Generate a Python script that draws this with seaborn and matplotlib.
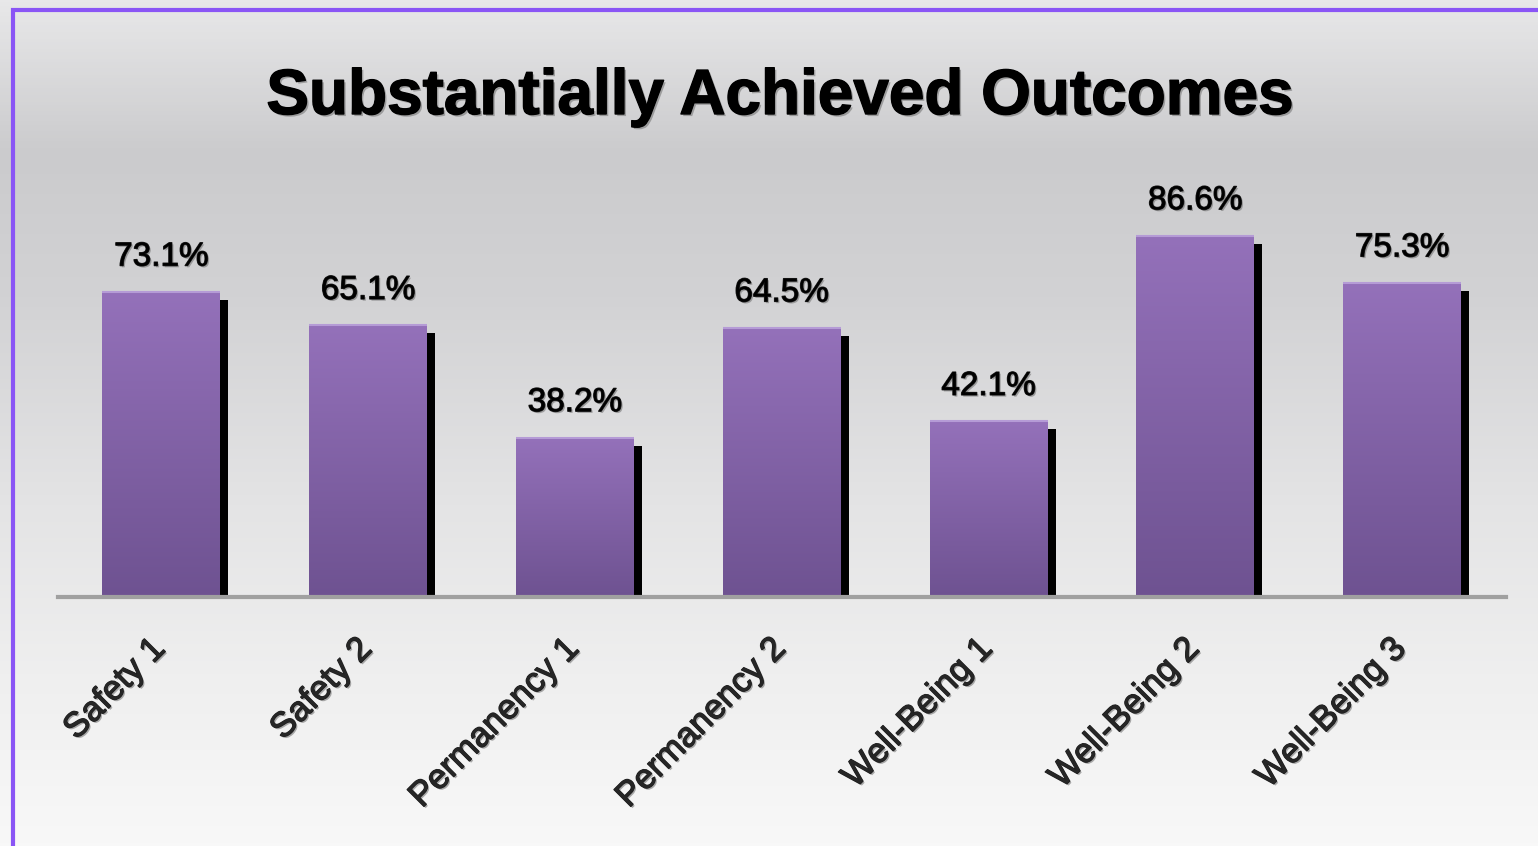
import numpy as np
import pandas as pd
import matplotlib
matplotlib.use("Agg")
import matplotlib.pyplot as plt
import matplotlib.transforms as mtransforms
import matplotlib.patheffects as pe
from matplotlib.colors import LinearSegmentedColormap
from matplotlib.patches import Rectangle
from matplotlib.lines import Line2D
import seaborn as sns

categories = ["Safety 1", "Safety 2", "Permanency 1", "Permanency 2",
              "Well-Being 1", "Well-Being 2", "Well-Being 3"]
values = [73.1, 65.1, 38.2, 64.5, 42.1, 86.6, 75.3]
value_labels = ["73.1%", "65.1%", "38.2%", "64.5%", "42.1%", "86.6%", "75.3%"]
title = "Substantially Achieved Outcomes"

df = pd.DataFrame({"outcome": categories, "pct": values})

sns.set_theme(style="white")
plt.rcParams["font.family"] = ["Liberation Sans", "DejaVu Sans"]

W, H, DPI = 1538, 846, 100
fig = plt.figure(figsize=(W / DPI, H / DPI), dpi=DPI)

# background gradient
bg = fig.add_axes([0, 0, 1, 1], zorder=-10)
bg_cmap = LinearSegmentedColormap.from_list(
    "bg", [(0.0, "#e8e8e9"), (0.18, "#cbcbcd"), (0.35, "#d2d2d4"),
           (0.6, "#e4e4e5"), (0.8, "#efefef"), (1.0, "#f8f8f8")])
bg.imshow(np.linspace(0, 1, 256)[:, None], cmap=bg_cmap, aspect="auto",
          extent=[0, 1, 1, 0])
bg.set_xlim(0, 1)
bg.set_ylim(1, 0)
bg.axis("off")

# purple frame (left and top edges visible)
fig.add_artist(Line2D([13 / W, 13 / W, 1.0], [0.0, 1 - 10.5 / H, 1 - 10.5 / H],
                      transform=fig.transFigure, color="#8a55f5", lw=3.0,
                      solid_joinstyle="miter"))

baseline_px = 597
px_per_pct = 4.172
ax_h = 100 * px_per_pct
ax = fig.add_axes([58 / W, (H - baseline_px) / H, (1505.6 - 58) / W, ax_h / H])
ax.set_facecolor("none")

sns.barplot(data=df, x="outcome", y="pct", color="#8465a8", width=0.57,
            saturation=1, ax=ax, zorder=3)
ax.set_ylim(0, 100)
ax.set_xlim(-0.5, len(categories) - 0.5)

txt_fx = [pe.withSimplePatchShadow(offset=(1.2, -1.2), shadow_rgbFace="#777777",
                                   alpha=0.6),
          pe.Stroke(linewidth=0.9, foreground="#202020"), pe.Normal()]

bar_cmap = LinearSegmentedColormap.from_list("bar", ["#6e5291", "#9471ba"])
shadow_off = mtransforms.ScaledTranslation(8 / DPI, -8 / DPI, fig.dpi_scale_trans)
for p, lab in zip(ax.patches, value_labels):
    x0, w, h = p.get_x(), p.get_width(), p.get_height()
    # shadow
    sh = Rectangle((x0, 0), w, h, facecolor="black", edgecolor="none",
                   transform=ax.transData + shadow_off, zorder=2)
    ax.add_patch(sh)
    # gradient fill
    p.set_edgecolor("none")
    im = ax.imshow(np.linspace(0, 1, 256)[:, None], cmap=bar_cmap,
                   aspect="auto", extent=[x0, x0 + w, 0, h], origin="lower",
                   zorder=4)
    im.set_clip_path(p)
    ax.plot([x0, x0 + w], [h, h], color="#b59bd6", lw=1.5, zorder=5,
            solid_capstyle="butt")
    ax.annotate(lab, (x0 + w / 2, h), xytext=(0, 19), textcoords="offset points",
                ha="center", va="baseline", fontsize=24, color="black",
                path_effects=txt_fx)

ax.set_xlim(-0.5, len(categories) - 0.5)
ax.set_ylim(0, 100)

for s in ["left", "right", "top"]:
    ax.spines[s].set_visible(False)
ax.spines["bottom"].set_color("#a0a0a0")
ax.spines["bottom"].set_linewidth(3)
ax.spines["bottom"].set_zorder(6)
ax.set_yticks([])
ax.set_xlabel("")
ax.set_ylabel("")
ax.tick_params(axis="x", length=0, pad=25)
ax.set_xticks(range(len(categories)))
ax.set_xticklabels(categories, rotation=45, ha="right", va="top",
                   rotation_mode="anchor", fontsize=25)
lab_off = mtransforms.ScaledTranslation(-13 / DPI, 0, fig.dpi_scale_trans)
for t in ax.get_xticklabels():
    t.set_transform(t.get_transform() + lab_off)
    t.set_path_effects(txt_fx)

fig.text(780 / W, 1 - 114 / H, title, ha="center", va="baseline",
         fontsize=46, fontweight="bold", color="black",
         path_effects=[pe.withSimplePatchShadow(offset=(1.5, -1.5),
                                                shadow_rgbFace="#777777",
                                                alpha=0.6),
                       pe.Stroke(linewidth=1.0, foreground="black"),
                       pe.Normal()])

fig.savefig("out.png", dpi=DPI)
